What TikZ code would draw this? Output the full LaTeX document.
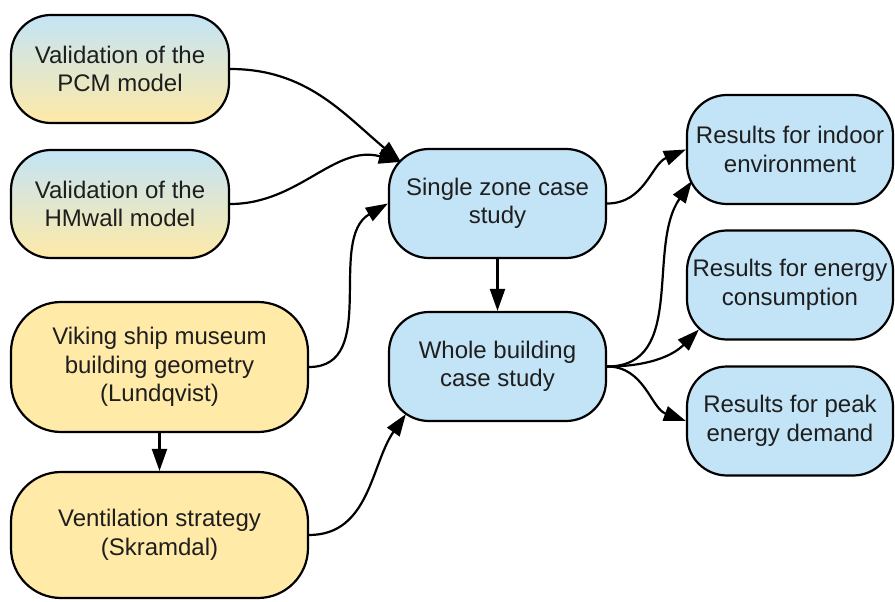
\documentclass[tikz,border=0pt]{standalone}
\usepackage{fontspec}
\setmainfont{Liberation Sans}
\usepackage{tikz}
\usetikzlibrary{arrows.meta,shapes,positioning}
\usepackage{xcolor}
\definecolor{lcblue}{RGB}{195,228,246}
\definecolor{lcyellow}{RGB}{255,234,167}
\definecolor{lctext}{RGB}{30,30,30}
\tikzstyle{arrow} = [line width=1.1pt,-{Triangle[length=11pt,width=7.5pt]},color=black]
\tikzstyle{taskbox} = [rectangle, rounded corners=20pt, align=center, inner sep=2pt, draw=black, line width=1.1pt, text=lctext, font=\fontsize{12pt}{14.25pt}\selectfont]
\tikzstyle{inputbox} = [taskbox, rounded corners=25pt, fill=lcyellow, minimum width=148.5pt, minimum height=65pt]
\tikzstyle{validbox} = [taskbox, top color=lcblue, bottom color=lcyellow, minimum width=109pt, minimum height=54pt]
\tikzstyle{studybox} = [taskbox, fill=lcblue, minimum width=108.5pt, minimum height=54.5pt]
\tikzstyle{resultbox} = [taskbox, fill=lcblue, minimum width=103pt, minimum height=54.5pt]

\begin{document}
\begin{tikzpicture}
\useasboundingbox (0,0) rectangle (447.5pt,300.5pt);

% Inputs on the left
\node (pcm) [validbox] at (60pt,266pt) {Validation of the\\PCM model};
\node (hm) [validbox, below of=pcm, node distance=67.5pt] {Validation of the\\HMwall model};
\node (viking) [inputbox] at (79.75pt,117pt) {Viking ship museum\\building geometry\\(Lundqvist)};
\node (vent) [inputbox, below of=viking, node distance=84pt, minimum height=63pt] {Ventilation strategy\\(Skramdal)};

% Case studies
\node (single) [studybox] at (248.75pt,198.75pt) {Single zone case\\study};
\node (whole) [studybox, below of=single, node distance=81.5pt] {Whole building\\case study};

% Results
\node (indoor) [resultbox] at (395pt,225.75pt) {Results for indoor\\environment};
\node (energy) [resultbox, below of=indoor, node distance=67.75pt] {Results for energy\\consumption};
\node (peak) [resultbox, below of=energy, node distance=68pt] {Results for peak\\energy demand};

% Connections
\draw [arrow] (pcm.east) to[out=0,in=140] ([shift={(6.5pt,-7pt)}]single.north west);
\draw [arrow] (hm.east) to[out=0,in=165] ([shift={(6.5pt,-7pt)}]single.north west);
\draw [arrow] (viking.east) to[out=0,in=210] (single.west);
\draw [arrow] (viking) -- (vent);
\draw [arrow] (vent.east) to[out=0,in=235] ([shift={(9pt,4pt)}]whole.south west);
\draw [arrow] (single) -- (whole);
\draw [arrow] (single.east) to[out=0,in=203] (indoor.west);
\draw [arrow] (whole.east) to[out=0,in=235] ([shift={(3pt,12pt)}]indoor.south west);
\draw [arrow] (whole.east) to[out=0,in=225] ([shift={(6.5pt,5.5pt)}]energy.south west);
\draw [arrow] (whole.east) to[out=0,in=160] (peak.west);
\end{tikzpicture}
\end{document}
